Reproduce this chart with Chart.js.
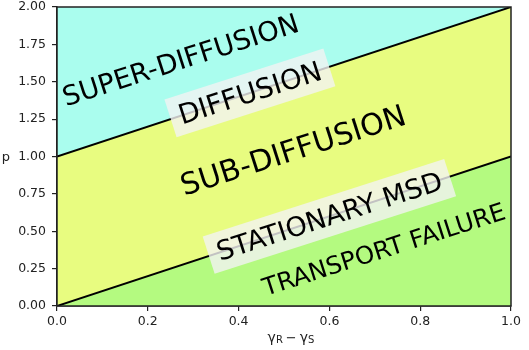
<!DOCTYPE html>
<html><head><meta charset="utf-8">
<script src="https://cdn.jsdelivr.net/npm/chart.js@4"></script>
<style>html,body{margin:0;padding:0;background:#fff;} #wrap{width:529px;height:350px;position:relative;}</style>
</head><body><div id="wrap"><canvas id="c" width="529" height="350"></canvas></div>
<script>
// ---- data ----
const xValues = [0, 1];
const topEdge = [2, 2];
const upperBoundary = [1, 2];   // p = (γR-γS) + 1
const lowerBoundary = [0, 1];   // p = γR-γS
const xTicks = [0, 0.2, 0.4, 0.6, 0.8, 1.0];
const yTicks = [0, 0.25, 0.5, 0.75, 1.0, 1.25, 1.5, 1.75, 2.0];
const regionNames = ['SUPER-DIFFUSION', 'DIFFUSION', 'SUB-DIFFUSION', 'STATIONARY MSD', 'TRANSPORT FAILURE'];
const regionX = [0.272, 0.425, 0.52, 0.60, 0.72];
const regionY = [1.645, 1.425, 1.04, 0.60, 0.38];

// ---- styles ----
const FONT = '"DejaVu Sans", sans-serif';
const labelSizes = [27.3, 27.5, 30, 27, 24.6];
const labelBoxed = [false, true, false, true, false];
const LABEL_ANGLE = 17.8 * Math.PI / 180;

const toPts = (ys) => xValues.map((x, i) => ({x: x, y: ys[i]}));

const labelsPlugin = {
  id: 'regionLabels',
  afterDatasetsDraw(chart) {
    const ctx = chart.ctx, xs = chart.scales.x, ys = chart.scales.y;
    regionNames.forEach((name, i) => {
      const px = xs.getPixelForValue(regionX[i]);
      const py = ys.getPixelForValue(regionY[i]);
      ctx.save();
      ctx.translate(px, py);
      ctx.rotate(-LABEL_ANGLE);
      ctx.font = labelSizes[i] + 'px ' + FONT;
      ctx.textAlign = 'center';
      ctx.textBaseline = 'middle';
      if (labelBoxed[i]) {
        const w = ctx.measureText(name).width;
        const h = labelSizes[i] * 1.15;
        ctx.fillStyle = 'rgba(242,242,242,0.8)';
        ctx.fillRect(-w / 2 - 9, -h / 2 - 4, w + 18, h + 8);
      }
      ctx.fillStyle = '#000';
      ctx.fillText(name, 0, 2);
      ctx.restore();
    });
  }
};

const framePlugin = {
  id: 'frame',
  afterDraw(chart) {
    const ctx = chart.ctx, a = chart.chartArea;
    ctx.save();
    ctx.strokeStyle = '#222';
    ctx.lineWidth = 1.5;
    ctx.strokeRect(a.left, a.top, a.right - a.left, a.bottom - a.top);
    // axis titles
    ctx.fillStyle = '#222';
    ctx.textBaseline = 'middle';
    ctx.textAlign = 'center';
    ctx.font = '13px ' + FONT;
    ctx.fillText('p', 6, (a.top + a.bottom) / 2 + 1);
    // x title with subscripts: γR − γS
    const parts = [['γ', 14, 0, 0], ['R', 10, 1, 3], ['−', 13, 0, 3], ['γ', 14, 0, 0], ['S', 10, 1, 0]];
    let total = 0;
    parts.forEach(p => { ctx.font = p[1] + 'px ' + FONT; total += ctx.measureText(p[0]).width + p[3]; });
    let x = (a.left + a.right) / 2 - total / 2 + 7;
    ctx.textAlign = 'left';
    ctx.textBaseline = 'alphabetic';
    parts.forEach(p => {
      ctx.font = p[1] + 'px ' + FONT;
      ctx.fillText(p[0], x, 342 + p[2]);
      x += ctx.measureText(p[0]).width + p[3];
    });
    ctx.restore();
  }
};

new Chart(document.getElementById('c'), {
  type: 'line',
  data: {
    datasets: [
      {data: toPts(topEdge), borderWidth: 0, borderColor: 'rgba(0,0,0,0)', backgroundColor: 'rgb(170,253,238)', fill: '+1', pointRadius: 0},
      {data: toPts(upperBoundary), borderWidth: 2, borderColor: '#000', backgroundColor: 'rgb(232,252,128)', fill: '+1', pointRadius: 0},
      {data: toPts(lowerBoundary), borderWidth: 2, borderColor: '#000', backgroundColor: 'rgb(180,250,128)', fill: 'start', pointRadius: 0}
    ]
  },
  options: {
    responsive: false,
    animation: false,
    events: [],
    layout: {padding: {left: 0, top: 0, right: 18, bottom: 0}},
    plugins: {legend: {display: false}, tooltip: {enabled: false}, filler: {drawTime: 'beforeDatasetsDraw'}},
    scales: {
      x: {
        type: 'linear', min: 0, max: 1,
        afterBuildTicks: s => { s.ticks = xTicks.map(v => ({value: v})); },
        afterFit: s => { s.height = 44; },
        ticks: {callback: v => Number(v).toFixed(1), color: '#222', font: {family: FONT, size: 12.5}, padding: 3, maxRotation: 0},
        grid: {drawOnChartArea: false, drawTicks: true, tickLength: 5, color: '#222', lineWidth: 1.2},
        border: {display: true, color: '#222', width: 1.5}
      },
      y: {
        type: 'linear', min: 0, max: 2,
        afterBuildTicks: s => { s.ticks = yTicks.map(v => ({value: v})); },
        afterFit: s => { s.width = 57; s.paddingTop = 7; s.paddingBottom = 0; },
        ticks: {callback: v => Number(v).toFixed(2), color: '#222', font: {family: FONT, size: 12.5}, padding: 6},
        grid: {drawOnChartArea: false, drawTicks: true, tickLength: 5, color: '#222', lineWidth: 1.2},
        border: {display: true, color: '#222', width: 1.5}
      }
    }
  },
  plugins: [labelsPlugin, framePlugin]
});
</script></body></html>
